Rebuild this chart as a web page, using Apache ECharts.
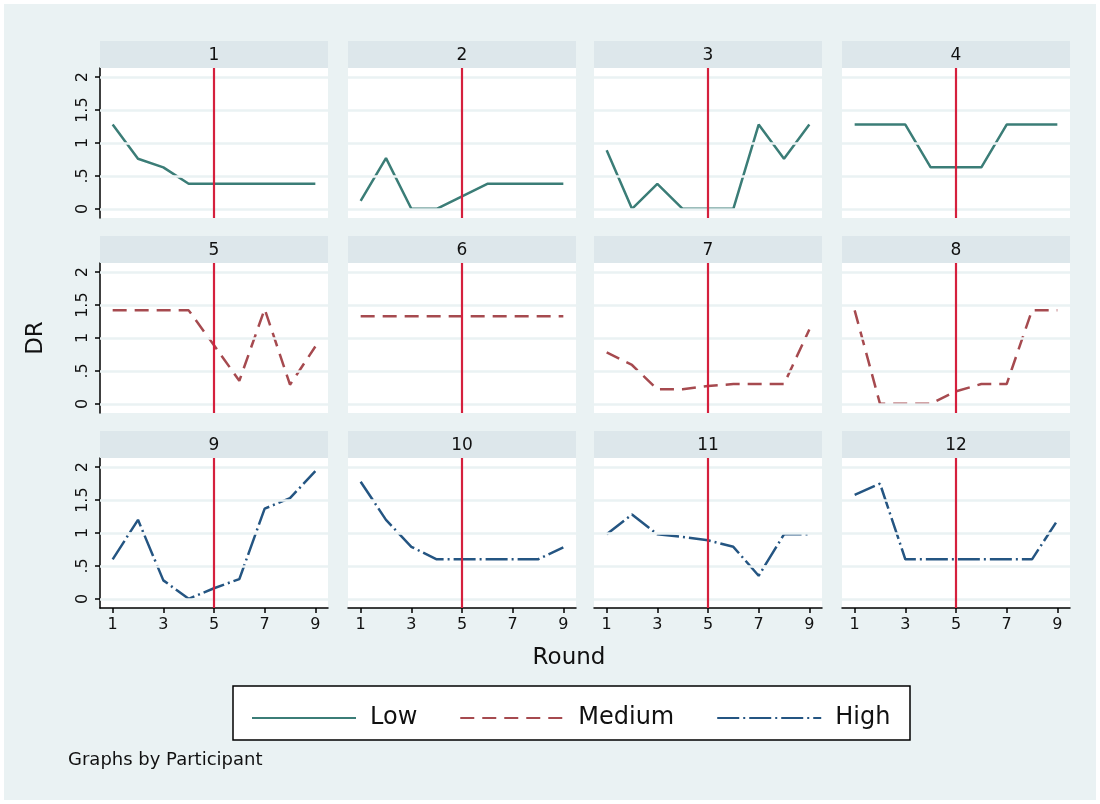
<!DOCTYPE html>
<html><head><meta charset="utf-8">
<script src="https://cdn.jsdelivr.net/npm/echarts@6/dist/echarts.min.js"></script>
<style>html,body{margin:0;padding:0;background:#fff}#c{width:1100px;height:804px}</style>
</head><body><div id="c"></div>
<script>
const rounds = [1,2,3,4,5,6,7,8,9];
const participants = ['1','2','3','4','5','6','7','8','9','10','11','12'];
const groups = ['Low','Low','Low','Low','Medium','Medium','Medium','Medium','High','High','High','High'];
const dr1  = [1.28,0.76,0.63,0.38,0.38,0.38,0.38,0.38,0.38];
const dr2  = [0.12,0.77,0,0,0.19,0.38,0.38,0.38,0.38];
const dr3  = [0.89,0,0.38,0,0,0,1.28,0.76,1.28];
const dr4  = [1.28,1.28,1.28,0.63,0.63,0.63,1.28,1.28,1.28];
const dr5  = [1.42,1.42,1.42,1.42,0.89,0.35,1.44,0.29,0.87];
const dr6  = [1.33,1.33,1.33,1.33,1.33,1.33,1.33,1.33,1.33];
const dr7  = [0.78,0.59,0.22,0.22,0.27,0.30,0.30,0.30,1.13];
const dr8  = [1.42,0,0,0,0.19,0.30,0.30,1.42,1.42];
const dr9  = [0.60,1.20,0.28,0,0.16,0.30,1.37,1.53,1.94];
const dr10 = [1.78,1.20,0.79,0.60,0.60,0.60,0.60,0.60,0.78];
const dr11 = [0.98,1.28,0.98,0.94,0.89,0.79,0.35,0.98,0.98];
const dr12 = [1.58,1.75,0.60,0.60,0.60,0.60,0.60,0.60,1.19];
const drValues = [dr1,dr2,dr3,dr4,dr5,dr6,dr7,dr8,dr9,dr10,dr11,dr12];
const xTicks = [1,3,5,7,9];
const yTicks = [0,0.5,1,1.5,2];
const treatmentRound = 5;
const legendNames = ['Low','Medium','High'];

const FONT = 'DejaVu Sans';
const styles = {
  Low:    {color:'#3b7d77', type:'solid'},
  Medium: {color:'#a64a4f', type:[14,8]},
  High:   {color:'#245582', type:[22,4,2,4]}
};
const colLeft = [100, 348, 594, 842];
const rowTop = [68, 263, 458];
const W = 228, H = 150, STRIP = 27;
const BG = '#eaf2f3';

const grids=[], xAxes=[], yAxes=[], series=[], graphics=[];
graphics.push({type:'rect', z:-10, shape:{x:4,y:4,width:1092,height:796}, style:{fill:BG}});

participants.forEach((p,i)=>{
  const r = Math.floor(i/4), c = i%4;
  const left = colLeft[c], top = rowTop[r];
  grids.push({left:left, top:top, width:W, height:H, show:true, backgroundColor:'#fff', borderWidth:0, containLabel:false});
  const bottomRow = r===2, firstCol = c===0;
  xAxes.push({type:'value', gridIndex:i, min:0.5, max:9.5,
    axisLine:{show:bottomRow, onZero:false, lineStyle:{color:'#000', width:1.5}},
    axisTick:{show:bottomRow, customValues:xTicks, length:5, lineStyle:{color:'#000', width:1.5}},
    axisLabel:{show:bottomRow, customValues:xTicks, color:'#111', fontSize:16, fontFamily:FONT, margin:9},
    splitLine:{show:false}});
  yAxes.push({type:'value', gridIndex:i, min:-0.14, max:2.14,
    name: (i===4)?'DR':'', nameLocation:'middle', nameGap:52, nameRotate:90,
    nameTextStyle:{fontSize:23, fontFamily:FONT, color:'#111'},
    axisLine:{show:firstCol, onZero:false, lineStyle:{color:'#000', width:1.5}},
    axisTick:{show:firstCol, customValues:yTicks, length:5, lineStyle:{color:'#000', width:1.5}},
    axisLabel:{show:firstCol, customValues:yTicks, rotate:90, color:'#111', fontSize:16, fontFamily:FONT, margin:9,
      formatter:v=> v===0.5 ? '.5' : String(v)},
    splitLine:{show:false}});
  series.push({type:'line', name:'grid'+i, xAxisIndex:i, yAxisIndex:i, data:[], z:1, silent:true,
    markLine:{silent:true, symbol:'none', label:{show:false}, animation:false,
      lineStyle:{color:BG, width:2.5, type:'solid'},
      data: yTicks.map(v=>({yAxis:v}))}});
  const g = groups[i];
  series.push({type:'line', name:g, xAxisIndex:i, yAxisIndex:i, z:3,
    data: rounds.map((x,k)=>[x, drValues[i][k]]),
    symbol:'none', showSymbol:false, animation:false,
    lineStyle:{color:styles[g].color, width:2.5, type:styles[g].type},
    itemStyle:{color:styles[g].color}});
  series.push({type:'line', name:'ref'+i, xAxisIndex:i, yAxisIndex:i, data:[], z:5, silent:true,
    markLine:{silent:true, symbol:'none', label:{show:false}, animation:false,
      lineStyle:{color:'#d5203d', width:2.2, type:'solid'},
      data:[{xAxis:treatmentRound}]}});
  graphics.push({type:'rect', z:1, shape:{x:left, y:top-STRIP, width:W, height:STRIP}, style:{fill:'#dde7eb'}});
  graphics.push({type:'text', z:2, x:left+W/2, y:top-STRIP/2+1,
    style:{text:p, fill:'#111', font:'17px "'+FONT+'"', textAlign:'center', textVerticalAlign:'middle'}});
});

graphics.push({type:'rect', z:1, shape:{x:233, y:686, width:677, height:54}, style:{fill:'#fff', stroke:'#000', lineWidth:1.5}});
graphics.push({type:'text', z:2, x:569, y:658,
  style:{text:'Round', fill:'#111', font:'23px "'+FONT+'"', textAlign:'center', textVerticalAlign:'middle'}});
graphics.push({type:'text', z:2, x:68, y:760,
  style:{text:'Graphs by Participant', fill:'#111', font:'18px "'+FONT+'"', textAlign:'left', textVerticalAlign:'middle'}});

const chart = echarts.init(document.getElementById('c'), null, {renderer:'canvas'});
chart.setOption({
  animation:false,
  backgroundColor:'#fff',
  grid:grids, xAxis:xAxes, yAxis:yAxes, series:series,
  graphic:{elements:graphics},
  legend:{data:legendNames, left:246, top:701, z:5, itemWidth:104, itemHeight:24, itemGap:42,
    selectedMode:false,
    itemStyle:{opacity:0},
    textStyle:{fontSize:24, fontFamily:FONT, color:'#111', padding:[0,0,0,9]}}
});
</script></body></html>
